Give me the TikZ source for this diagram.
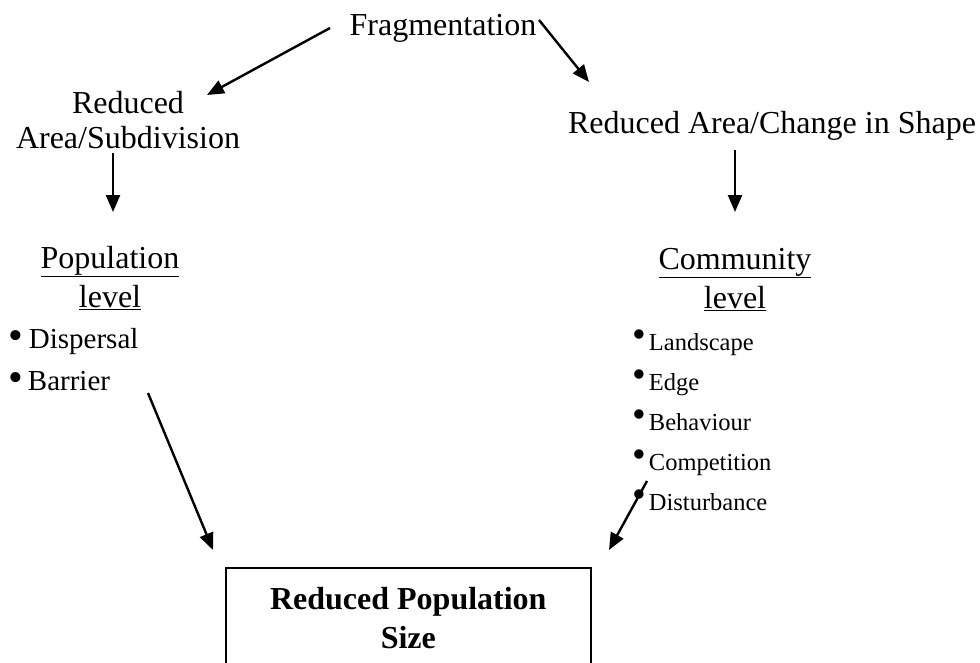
\documentclass[tikz,border=0pt]{standalone}
\usepackage{fontspec}
\setmainfont{Liberation Serif}
\usetikzlibrary{arrows.meta}
\newcommand{\bigdot}{\raisebox{-1pt}{\scalebox{1.45}{\textbullet}}}
\newcommand{\highdot}{\raisebox{2.5pt}{\scalebox{1.6}{\textbullet}}}
\begin{document}
\begin{tikzpicture}[x=1pt,y=-1pt,
  lbl/.style={inner sep=0pt, font=\fontsize{32}{35}\selectfont, align=center, anchor=base},
  head/.style={inner sep=0pt, font=\fontsize{32}{39}\selectfont, align=center, anchor=base},
  item/.style={inner sep=0pt, anchor=base west, font=\fontsize{29}{34}\selectfont},
  smallitem/.style={inner sep=0pt, anchor=base west, font=\fontsize{24.5}{28}\selectfont},
  arr/.style={line width=2.4pt, -{Triangle[length=17pt,width=14pt]}}]
\useasboundingbox (0,0) rectangle (980,662);

% top-level cause and its two consequences (base = last line)
\node[lbl] (frag) at (443,35) {Fragmentation};
\node[lbl] (rasub) at (128,148) {Reduced\\Area/Subdivision};
\node[lbl] (racs) at (772,133) {Reduced Area/Change in Shape};

% the two levels of effect
\node[head] (pop) at (110,307) {\underline{Population}\\\underline{level}};
\node[head] (com) at (735,308) {\underline{Community}\\\underline{level}};

% population-level factors
\node[item] (disp) at (8,348) {\bigdot\hspace{6pt}Dispersal};
\node[item] (barr) at (8,390) {\bigdot\hspace{5pt}Barrier};

% community-level factors
\node[smallitem] (land) at (632,350) {\highdot\hspace{3pt}Landscape};
\node[smallitem] (edge) at (632,390) {\highdot\hspace{3pt}Edge};
\node[smallitem] (beh)  at (632,430) {\highdot\hspace{3pt}Behaviour};
\node[smallitem] (comp) at (632,470) {\highdot\hspace{3pt}Competition};
\node[smallitem] (dist) at (632,510) {\highdot\hspace{3pt}Disturbance};

% outcome
\node[draw, line width=1.6pt, minimum width=365pt, minimum height=100pt,
      inner sep=0pt, align=center, anchor=north west,
      font=\bfseries\fontsize{32}{39}\selectfont] (out) at (225,567)
      {Reduced Population\\Size};

% arrow end points
\coordinate (fragL) at (330,28);
\coordinate (fragR) at (539,20);
\coordinate (rasubT) at (207,95);
\coordinate (racsT) at (589,82);
\coordinate (rasubB) at (113,153);
\coordinate (popT) at (113,212);
\coordinate (racsB) at (735,150);
\coordinate (comT) at (735,212);
\coordinate (barrB) at (148,393);
\coordinate (outL) at (213,550);
\coordinate (distB) at (647,481);
\coordinate (outR) at (609,550);

\draw[arr] (fragL) -- (rasubT);
\draw[arr] (fragR) -- (racsT);
\draw[arr] (rasubB) -- (popT);
\draw[arr] (racsB) -- (comT);
\draw[arr] (barrB) -- (outL);
\draw[arr] (distB) -- (outR);
\end{tikzpicture}
\end{document}
